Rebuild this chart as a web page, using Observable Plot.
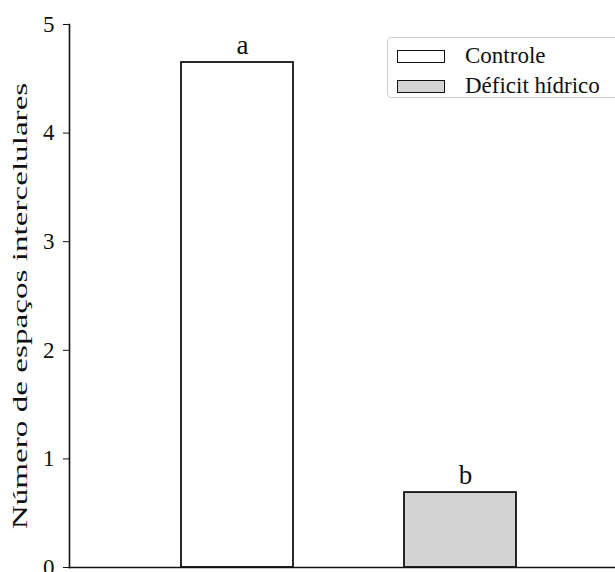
<!DOCTYPE html>
<html>
<head>
<meta charset="utf-8">
<script src="https://cdn.jsdelivr.net/npm/d3@7"></script>
<script src="https://cdn.jsdelivr.net/npm/@observablehq/plot@0.6"></script>
<style>
  html, body { margin: 0; padding: 0; background: #fff; }
  #wrap { position: relative; width: 615px; height: 572px; overflow: hidden; font-family: "Liberation Serif", "DejaVu Serif", serif; }
  #legend { position: absolute; left: 387px; top: 37px; width: 236px; height: 61px; border: 1px solid #cfcfcf; border-radius: 4px; box-sizing: border-box; background: #fff; }
  .item { position: absolute; left: 9px; height: 14px; display: flex; align-items: center; font-size: 23px; color: #111; white-space: nowrap; }
  .sw { width: 46px; height: 11px; border: 1.5px solid #111; margin-right: 20px; box-sizing: content-box; flex: none; }
</style>
</head>
<body>
<div id="wrap"></div>
<script>
const categories = ["Controle", "Déficit hídrico"];
const values = [4.65, 0.69];
const letters = ["a", "b"];
const fills = ["#ffffff", "#d3d3d3"];
const yTicks = [0, 1, 2, 3, 4, 5];
const yLabel = "Número de espaços intercelulares";

const data = categories.map((c, i) => ({cat: c, value: values[i], letter: letters[i], fill: fills[i]}));

const chart = Plot.plot({
  width: 615,
  height: 572,
  marginLeft: 69,
  marginRight: 0,
  marginTop: 24,
  marginBottom: 5,
  style: {fontFamily: "Liberation Serif, serif", fontSize: "22px", color: "#111", background: "#fff", overflow: "visible"},
  x: {type: "band", domain: categories, range: [69, 627], paddingInner: 0.5, paddingOuter: 0.5, axis: null},
  y: {domain: [0, 5]},
  marks: [
    Plot.barY(data, {x: "cat", y: "value", fill: "fill", stroke: "#111", strokeWidth: 1.8}),
    Plot.text(data, {x: "cat", y: "value", text: "letter", lineAnchor: "bottom", dy: -9, dx: 5, fontSize: 27, fill: "#111"}),
    Plot.axisY({ticks: yTicks, tickSize: 6, tickPadding: 9, fontSize: 23, label: yLabel, labelAnchor: "center", labelArrow: "none", labelOffset: 57, tickFormat: d => String(d)}),
    Plot.frame({anchor: "left", stroke: "#111", strokeWidth: 1.6}),
    Plot.frame({anchor: "bottom", stroke: "#111", strokeWidth: 1.6})
  ]
});

// the reference's axis title is stretched along its length
chart.querySelectorAll('g[aria-label="y-axis label"] text').forEach(t => {
  t.setAttribute("font-size", "21");
  const tr = t.getAttribute("transform") || "";
  t.setAttribute("transform", tr + " translate(-10,0) scale(1.58,1)");
});

const wrap = document.getElementById("wrap");
wrap.appendChild(chart);
const legend = document.createElement("div");
legend.id = "legend";
categories.forEach((c, i) => {
  const it = document.createElement("div");
  it.className = "item";
  it.style.top = (i === 0 ? 11 : 41) + "px";
  const sw = document.createElement("span");
  sw.className = "sw";
  sw.style.background = fills[i];
  const t = document.createElement("span");
  t.textContent = c;
  it.appendChild(sw);
  it.appendChild(t);
  legend.appendChild(it);
});
wrap.appendChild(legend);
</script>
</body>
</html>
